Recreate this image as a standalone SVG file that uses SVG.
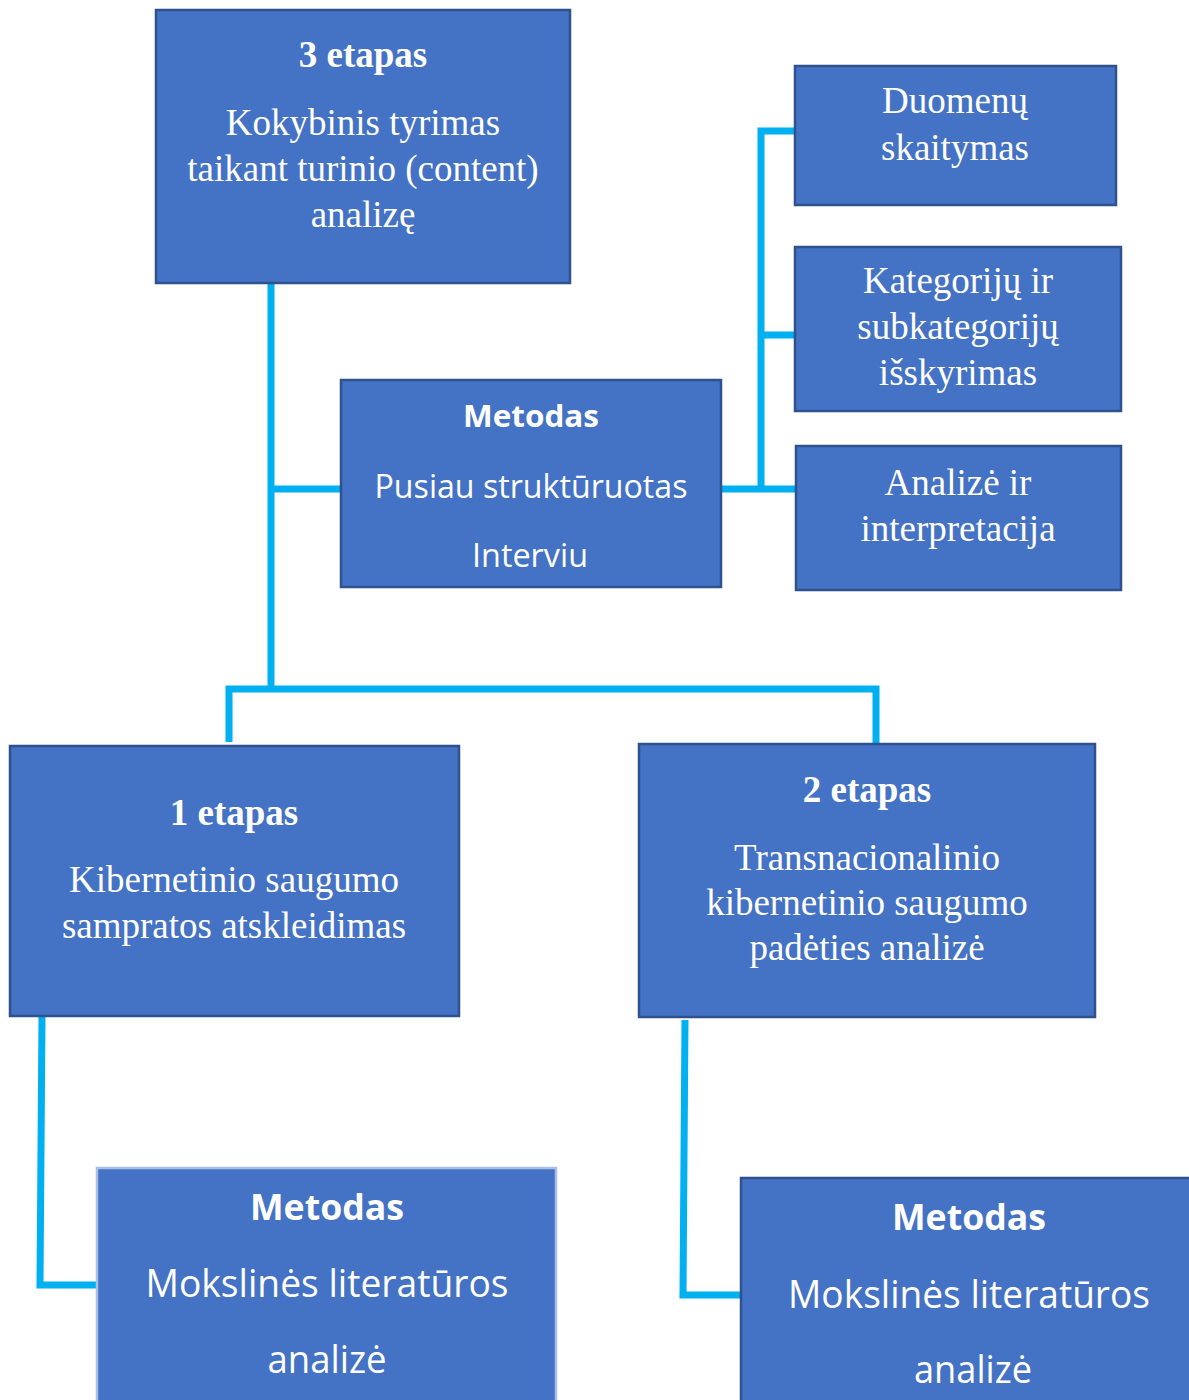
<svg xmlns="http://www.w3.org/2000/svg" width="1189" height="1400" viewBox="0 0 1189 1400">
<style>
.box{fill:#4472C4;stroke:#2F528F;stroke-width:2.5}
.boxl{fill:#4472C4;stroke:#A9BFE6;stroke-width:2.5}
.conn{fill:none;stroke:#00B0F0;stroke-width:7;stroke-linejoin:miter;stroke-linecap:butt}
.tr{font-family:"Liberation Serif","Times New Roman",serif;font-size:37px;fill:#fff;text-anchor:middle}
.tb{font-family:"Liberation Serif","Times New Roman",serif;font-size:37px;font-weight:bold;fill:#fff;text-anchor:middle}
.sr{font-family:"Open Sans","Liberation Sans",sans-serif;fill:#fff;text-anchor:middle}
.sb{font-family:"Open Sans","Liberation Sans",sans-serif;font-weight:bold;fill:#fff;text-anchor:middle}
</style>
<rect width="1189" height="1400" fill="#fff"/>
<g id="connectors">
<path class="conn" d="M271 283 V689"/>
<path class="conn" d="M271 489 H341"/>
<path class="conn" d="M229 742 V689 H876 V744"/>
<path class="conn" d="M721 489 H796"/>
<path class="conn" d="M795 131 H761 V489"/>
<path class="conn" d="M761 335 H795"/>
<path class="conn" d="M42 1016 L40 1285 H97"/>
<path class="conn" d="M685 1020 L683 1295 H742"/>
</g>
<g id="stage3">
<rect class="box" x="156" y="10" width="414" height="273"/>
<text class="tb" x="363" y="67">3 etapas</text>
<text class="tr" x="363" y="135">Kokybinis tyrimas</text>
<text class="tr" x="363" y="181">taikant turinio (content)</text>
<text class="tr" x="363" y="227">analizę</text>
</g>
<g id="method-interview">
<rect class="box" x="341" y="380" width="380" height="207"/>
<text class="sb" x="531" y="427" font-size="31" textLength="136" lengthAdjust="spacingAndGlyphs">Metodas</text>
<text class="sr" x="531" y="498" font-size="33" textLength="313" lengthAdjust="spacingAndGlyphs">Pusiau struktūruotas</text>
<text class="sr" x="530" y="567" font-size="33" textLength="116" lengthAdjust="spacingAndGlyphs">Interviu</text>
</g>
<g id="data-reading">
<rect class="box" x="795" y="66" width="321" height="139"/>
<text class="tr" x="955" y="113">Duomenų</text>
<text class="tr" x="955" y="160">skaitymas</text>
</g>
<g id="categories">
<rect class="box" x="795" y="247" width="326" height="164"/>
<text class="tr" x="958" y="293">Kategorijų ir</text>
<text class="tr" x="958" y="339">subkategorijų</text>
<text class="tr" x="958" y="385">išskyrimas</text>
</g>
<g id="analysis">
<rect class="box" x="796" y="446" width="325" height="144"/>
<text class="tr" x="958" y="495">Analizė ir</text>
<text class="tr" x="958" y="541">interpretacija</text>
</g>
<g id="stage1">
<rect class="box" x="10" y="746" width="449" height="270"/>
<text class="tb" x="234" y="825">1 etapas</text>
<text class="tr" x="234" y="892">Kibernetinio saugumo</text>
<text class="tr" x="234" y="938">sampratos atskleidimas</text>
</g>
<g id="stage2">
<rect class="box" x="639" y="744" width="456" height="273"/>
<text class="tb" x="867" y="802">2 etapas</text>
<text class="tr" x="867" y="870">Transnacionalinio</text>
<text class="tr" x="867" y="915">kibernetinio saugumo</text>
<text class="tr" x="867" y="960">padėties analizė</text>
</g>
<g id="method-lit1">
<rect class="boxl" x="97" y="1168" width="459" height="240"/>
<text class="sb" x="327" y="1220" font-size="36" textLength="154" lengthAdjust="spacingAndGlyphs">Metodas</text>
<text class="sr" x="327" y="1297" font-size="38" textLength="363" lengthAdjust="spacingAndGlyphs">Mokslinės literatūros</text>
<text class="sr" x="327" y="1373" font-size="38" textLength="119" lengthAdjust="spacingAndGlyphs">analizė</text>
</g>
<g id="method-lit2">
<rect class="box" x="741" y="1178" width="460" height="240"/>
<text class="sb" x="969" y="1230" font-size="36" textLength="154" lengthAdjust="spacingAndGlyphs">Metodas</text>
<text class="sr" x="969" y="1308" font-size="38" textLength="362" lengthAdjust="spacingAndGlyphs">Mokslinės literatūros</text>
<text class="sr" x="973" y="1383" font-size="38" textLength="118" lengthAdjust="spacingAndGlyphs">analizė</text>
</g>
</svg>
